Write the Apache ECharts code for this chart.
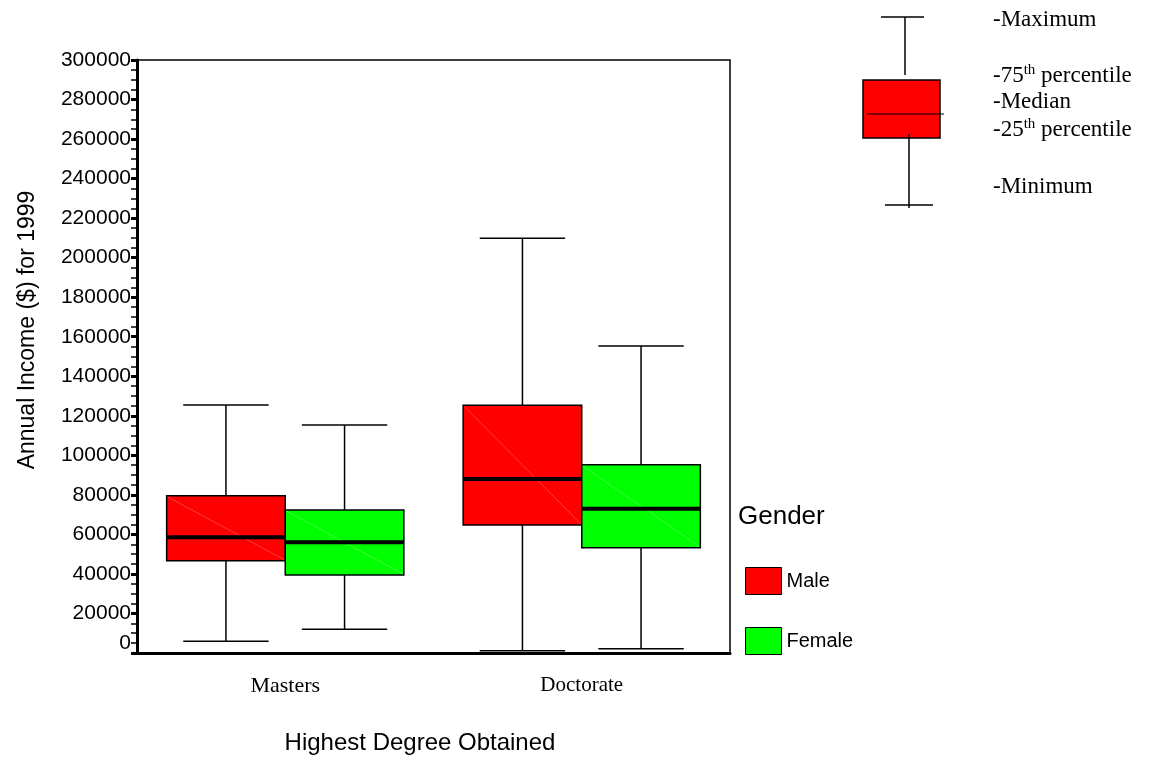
<!DOCTYPE html>
<html>
<head>
<meta charset="utf-8">
<script src="https://cdn.jsdelivr.net/npm/echarts@6/dist/echarts.min.js"></script>
<style>
  html, body { margin: 0; padding: 0; background: #fff; }
  #chart { width: 1157px; height: 759px; }
</style>
</head>
<body>
<div id="chart"></div>
<script>
// Degree categories on the x axis
const degrees = ['Masters', 'Doctorate'];
// Box statistics per degree: [min, q1, median, q3, max]
const maleStats = [
  [6000, 46700, 58500, 79500, 125500],
  [1200, 64800, 88000, 125300, 209800]
];
const femaleStats = [
  [12000, 39500, 56000, 72400, 115300],
  [2200, 53300, 73000, 95200, 155300]
];
const yTicks = { min: 0, max: 300000, interval: 20000 };

const chart = echarts.init(document.getElementById('chart'));

// side = -1 draws the box left of the category centre, +1 right of it
function boxRenderer(side, fill) {
  return function (params, api) {
    const cat = api.value(0);
    const band = api.size([1, 0])[0];
    const w = band * 0.4;
    const cx = api.coord([cat, 0])[0] + side * w / 2;
    const yOf = k => api.coord([cat, api.value(k)])[1];
    const yMin = yOf(1), yQ1 = yOf(2), yMed = yOf(3), yQ3 = yOf(4), yMax = yOf(5);
    const left = cx - w / 2, right = cx + w / 2;
    const cap = w * 0.36;
    const line = { stroke: '#000', lineWidth: 1.5 };
    return {
      type: 'group',
      children: [
        { type: 'line', shape: { x1: cx, y1: yMax, x2: cx, y2: yQ3 }, style: line },
        { type: 'line', shape: { x1: cx - cap, y1: yMax, x2: cx + cap, y2: yMax }, style: line },
        { type: 'line', shape: { x1: cx, y1: yQ1, x2: cx, y2: yMin }, style: line },
        { type: 'line', shape: { x1: cx - cap, y1: yMin, x2: cx + cap, y2: yMin }, style: line },
        { type: 'rect', shape: { x: left, y: yQ3, width: w, height: yQ1 - yQ3 },
          style: { fill: fill, stroke: '#000', lineWidth: 1.5 } },
        { type: 'line', shape: { x1: left + 1, y1: yQ3 + 1, x2: right - 1, y2: yQ1 - 1 },
          style: { stroke: 'rgba(255,255,255,0.3)', lineWidth: 0.8 } },
        { type: 'line', shape: { x1: left, y1: yMed, x2: right, y2: yMed },
          style: { stroke: '#000', lineWidth: 4 } }
      ]
    };
  };
}

const toRows = stats => stats.map((s, i) => [i].concat(s));

const sans = 'Arial, "Liberation Sans", sans-serif';
const serif = '"Times New Roman", "Liberation Serif", serif';

chart.setOption({
  animation: false,
  backgroundColor: '#fff',
  grid: {
    left: 137, right: 427, top: 60, bottom: 106,
    show: true, borderColor: '#000', borderWidth: 1.5, backgroundColor: 'transparent'
  },
  legend: {
    data: ['Male', 'Female'],
    orient: 'vertical',
    left: 745, top: 567, padding: 0,
    itemWidth: 36, itemHeight: 27, itemGap: 32,
    icon: 'rect',
    itemStyle: { borderColor: '#000', borderWidth: 1 },
    textStyle: { fontFamily: sans, fontSize: 20, color: '#000', padding: [8, 0, 0, 0] }
  },
  xAxis: {
    type: 'category',
    data: degrees,
    axisLine: { lineStyle: { color: '#000', width: 3 } },
    axisTick: { alignWithLabel: true, length: 5, lineStyle: { color: '#000', width: 3 } },
    axisLabel: {
      margin: 22,
      formatter: v => v === 'Masters' ? '{a|' + v + '}' : '{b|' + v + '}',
      rich: {
        a: { fontFamily: serif, fontSize: 22, color: '#000' },
        b: { fontFamily: serif, fontSize: 21, color: '#000' }
      }
    },
    splitLine: { show: false }
  },
  yAxis: {
    type: 'value',
    min: yTicks.min, max: yTicks.max, interval: yTicks.interval,
    axisLine: { show: true, lineStyle: { color: '#000', width: 3 } },
    axisTick: { show: true, length: 6, lineStyle: { color: '#000', width: 3 } },
    minorTick: { show: true, splitNumber: 4, length: 6, lineStyle: { color: '#000', width: 1.5 } },
    axisLabel: {
      margin: 6,
      formatter: v => v === 0 ? '{z|0}' : '{n|' + v + '}',
      rich: {
        n: { fontFamily: sans, fontSize: 21, color: '#000' },
        z: { fontFamily: sans, fontSize: 21, color: '#000', padding: [0, 0, 19, 0] }
      }
    },
    splitLine: { show: false }
  },
  series: [
    {
      name: 'Male', type: 'custom',
      itemStyle: { color: '#ff0000' },
      encode: { x: 0, y: [1, 2, 3, 4, 5] },
      renderItem: boxRenderer(-1, '#ff0000'),
      data: toRows(maleStats)
    },
    {
      name: 'Female', type: 'custom',
      itemStyle: { color: '#00ff00' },
      encode: { x: 0, y: [1, 2, 3, 4, 5] },
      renderItem: boxRenderer(1, '#00ff00'),
      data: toRows(femaleStats)
    }
  ],
  graphic: [
    // axis titles
    { type: 'text', x: 28, y: 330, rotation: Math.PI / 2,
      style: { text: 'Annual Income ($) for 1999', fontFamily: sans, fontSize: 23, fill: '#000',
               align: 'center', verticalAlign: 'middle' } },
    { type: 'text', x: 420, y: 743,
      style: { text: 'Highest Degree Obtained', fontFamily: sans, fontSize: 24, fill: '#000',
               align: 'center', verticalAlign: 'middle' } },
    { type: 'text', x: 738, y: 517,
      style: { text: 'Gender', fontFamily: sans, fontSize: 26, fill: '#000',
               align: 'left', verticalAlign: 'middle' } },
    // key explaining the parts of a box
    { type: 'line', shape: { x1: 881, y1: 17, x2: 924, y2: 17 }, style: { stroke: '#000', lineWidth: 1.5 } },
    { type: 'line', shape: { x1: 905, y1: 17, x2: 905, y2: 75 }, style: { stroke: '#000', lineWidth: 1.5 } },
    { type: 'rect', shape: { x: 863, y: 80, width: 77, height: 58 },
      style: { fill: '#ff0000', stroke: '#000', lineWidth: 1.5 } },
    { type: 'line', shape: { x1: 867, y1: 114, x2: 944, y2: 114 }, style: { stroke: '#000', lineWidth: 1.2 } },
    { type: 'line', shape: { x1: 909, y1: 134, x2: 909, y2: 208 }, style: { stroke: '#000', lineWidth: 1.5 } },
    { type: 'line', shape: { x1: 885, y1: 205, x2: 933, y2: 205 }, style: { stroke: '#000', lineWidth: 1.5 } },
    { type: 'text', x: 993, y: 20,
      style: { text: '-Maximum', fontFamily: serif, fontSize: 23, fill: '#000', verticalAlign: 'middle' } },
    { type: 'text', x: 993, y: 76,
      style: { text: '-75{s|th} percentile', fontFamily: serif, fontSize: 23, fill: '#000', verticalAlign: 'middle',
               rich: { s: { fontFamily: serif, fontSize: 15, padding: [0, 0, 11, 0] } } } },
    { type: 'text', x: 993, y: 102,
      style: { text: '-Median', fontFamily: serif, fontSize: 23, fill: '#000', verticalAlign: 'middle' } },
    { type: 'text', x: 993, y: 130,
      style: { text: '-25{s|th} percentile', fontFamily: serif, fontSize: 23, fill: '#000', verticalAlign: 'middle',
               rich: { s: { fontFamily: serif, fontSize: 15, padding: [0, 0, 11, 0] } } } },
    { type: 'text', x: 993, y: 187,
      style: { text: '-Minimum', fontFamily: serif, fontSize: 23, fill: '#000', verticalAlign: 'middle' } }
  ]
});
</script>
</body>
</html>
